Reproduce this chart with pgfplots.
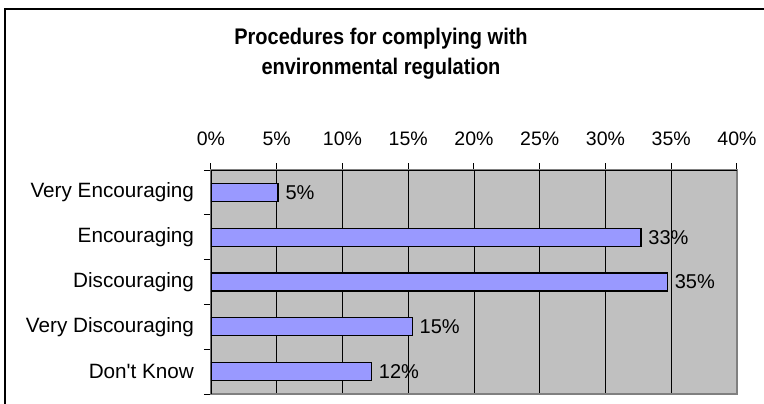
\documentclass[border=0pt]{standalone}
\usepackage{pgfplots}
\pgfplotsset{compat=1.18}
\usepackage{fontspec}
\setmainfont{Liberation Sans}
\definecolor{plotbg}{HTML}{C0C0C0}
\definecolor{barfill}{HTML}{9999FF}
\definecolor{axisgray}{HTML}{808080}

\begin{document}
\begin{tikzpicture}
\useasboundingbox (0pt,0pt) rectangle (764pt,-404pt);
% outer frame (only top and left edges visible)
\draw[line width=2pt] (5pt,-405pt) -- (5pt,-9pt) -- (765pt,-9pt);
\node[font=\fontsize{20}{30}\selectfont\bfseries, anchor=base] at (381pt,-45pt) {\scalebox{1}[1.13]{Procedures for complying with}};
\node[font=\fontsize{20}{30}\selectfont\bfseries, anchor=base] at (381pt,-75pt) {\scalebox{1}[1.13]{environmental regulation}};

\begin{axis}[
	at={(211pt,-394pt)}, anchor=south west,
	scale only axis, width=526pt, height=224pt,
	xmin=0, xmax=40,
	ymin=-0.5, ymax=4.5,
	xbar, bar width=18pt,
	xtick={0,5,...,40},
	xticklabel={\pgfmathprintnumber{\tick}\%},
	xtick pos=upper, xticklabel pos=upper,
	xticklabel style={anchor=base, yshift=18pt},
	ytick={0,...,4},
	yticklabels={Don\textquotesingle t Know, Very Discouraging, Discouraging, Encouraging, Very Encouraging},
	ytick pos=lower,
	minor ytick={-0.5,0.5,...,4.5},
	every major y tick/.style={draw=none},
	tick align=outside,
	major tick length=7pt, minor tick length=7pt,
	tick style={black, line width=1pt},
	xmajorgrids,
	major grid style={black, line width=0.8pt},
	axis background/.style={fill=plotbg},
	axis line style={draw=axisgray, line width=2pt},
	ticklabel style={font=\fontsize{19.5}{23}\selectfont},
	yticklabel style={font=\fontsize{20.7}{23}\selectfont, xshift=-6.5pt},
	/pgf/number format/assume math mode=true,
	nodes near coords={\pgfmathprintnumber[fixed,precision=0]{\pgfplotspointmeta}\%},
	every node near coord/.append style={font=\fontsize{20}{23}\selectfont, black, xshift=3.5pt},
	]
	\addplot[draw=black, fill=barfill, line width=1.3pt]
	coordinates {
(12.2,0)
(15.3,1)
(34.7,2)
(32.7,3)
(5.1,4)
	};
	\draw[black, line width=1.3pt] (axis cs:0,-0.5) -- (axis cs:0,4.5) -- (axis cs:40,4.5);
\end{axis}
\end{tikzpicture}
\end{document}
